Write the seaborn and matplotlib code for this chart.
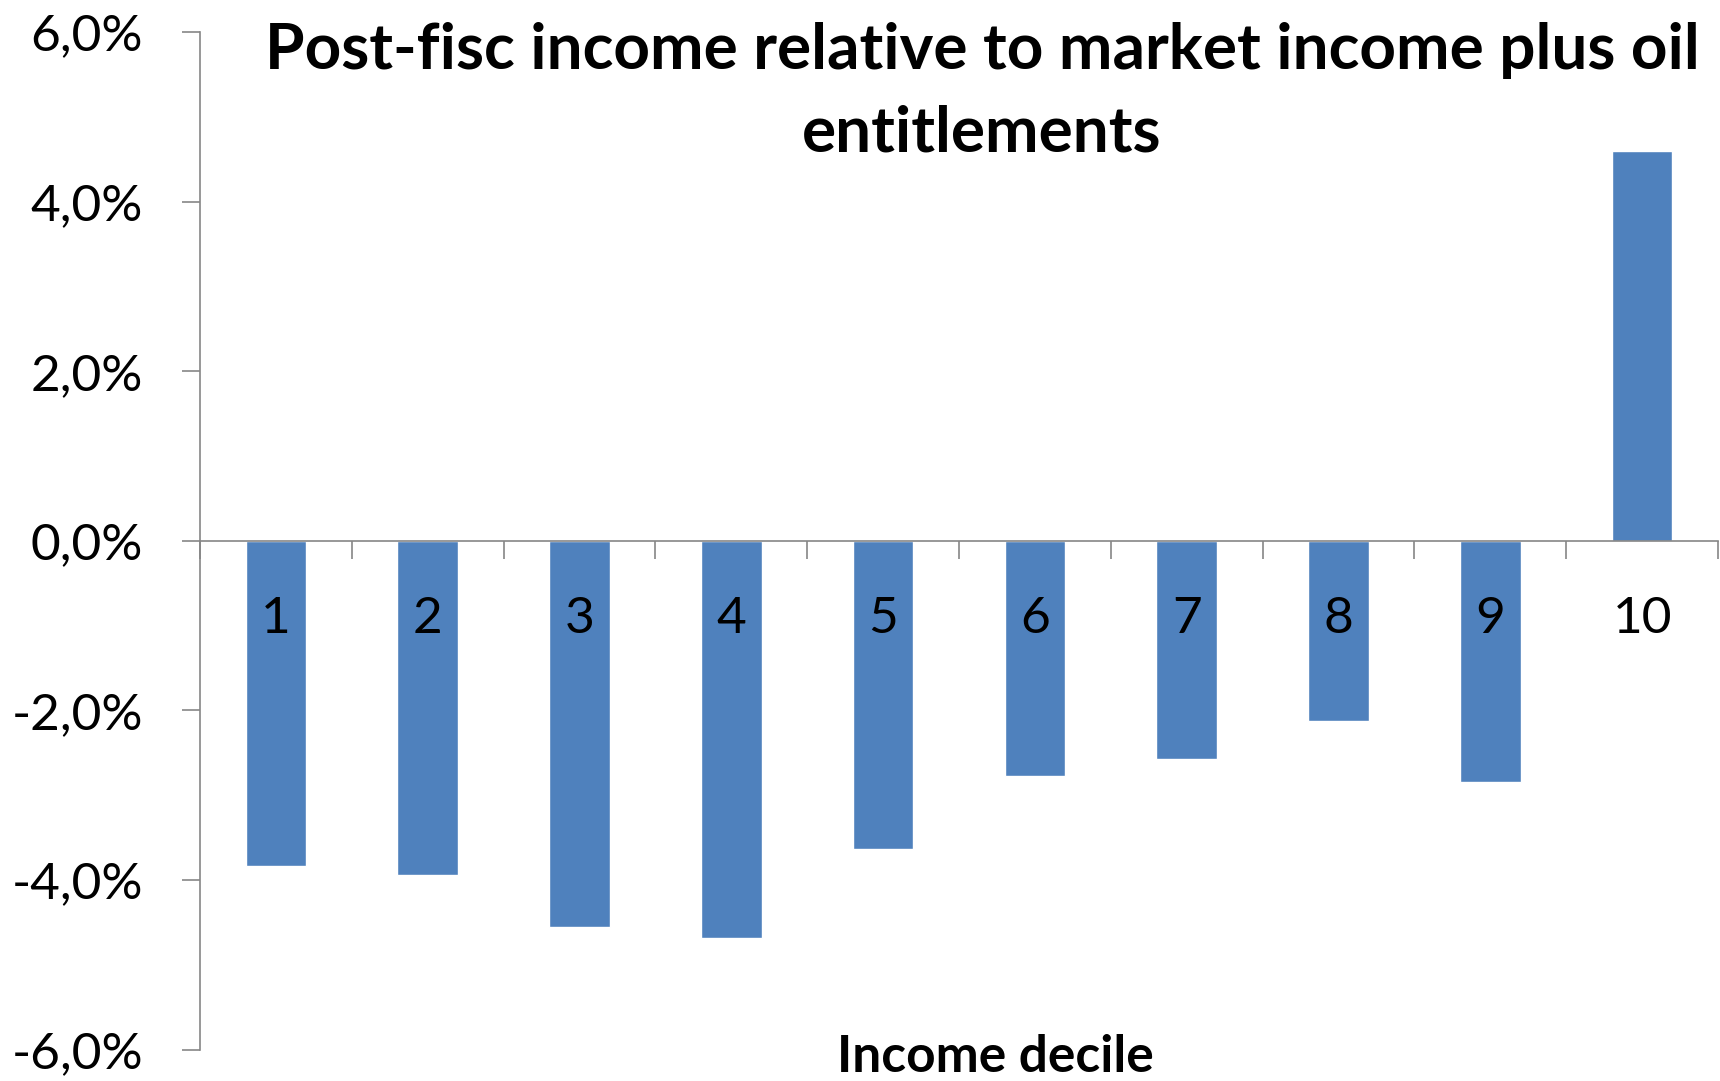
import matplotlib
matplotlib.use("Agg")
import matplotlib.pyplot as plt
from matplotlib.ticker import FixedLocator, FuncFormatter
import seaborn as sns
import pandas as pd

# Income deciles and change of post-fisc income (percent)
deciles = ["1", "2", "3", "4", "5", "6", "7", "8", "9", "10"]
change_pct = [-3.83, -3.94, -4.55, -4.68, -3.63, -2.77, -2.57, -2.12, -2.85, 4.60]
y_ticks = [-6, -4, -2, 0, 2, 4, 6]

title_text = "Post-fisc income relative to market income plus oil\nentitlements"
xlabel_text = "Income decile"

sns.set_theme(style="white")
plt.rcParams["font.family"] = ["Lato", "DejaVu Sans"]

BAR = "#4F81BD"
AXIS = "#868686"

fig = plt.figure(figsize=(17.2, 10.81), dpi=100)
ax = fig.add_axes([200 / 1720, 1 - 1049.5 / 1081, 1518 / 1720, (1049.5 - 32) / 1081])

df = pd.DataFrame({"decile": deciles, "change": change_pct})
sns.barplot(data=df, x="decile", y="change", color=BAR, saturation=1,
            width=0.4, ax=ax, errorbar=None)

ax.set_axisbelow(False)
ax.set_xlim(-0.5, len(deciles) - 0.5)
ax.set_ylim(min(y_ticks), max(y_ticks))

for s in ["top", "right"]:
    ax.spines[s].set_visible(False)
ax.spines["left"].set_color(AXIS)
ax.spines["left"].set_linewidth(1.2)
ax.spines["bottom"].set_color(AXIS)
ax.spines["bottom"].set_linewidth(1.2)
ax.spines["bottom"].set_position(("data", 0))

ax.yaxis.set_major_locator(FixedLocator(y_ticks))
ax.yaxis.set_major_formatter(FuncFormatter(lambda v, p: f"{v:.1f}%".replace(".", ",")))
ax.tick_params(axis="y", direction="out", length=13, width=1.2, color=AXIS,
               labelsize=37, pad=28, labelcolor="black", left=True)

ax.xaxis.set_minor_locator(FixedLocator([i - 0.5 for i in range(len(deciles) + 1)]))
ax.tick_params(axis="x", which="minor", direction="out", length=13, width=1.2,
               color=AXIS, bottom=True)
ax.tick_params(axis="x", which="major", length=0, labelsize=37, pad=40,
               labelcolor="black", bottom=True)

ax.set_xlabel("")
ax.set_ylabel("")

fig.text(982 / 1720, 1 - 22 / 1081, title_text, ha="center", va="top",
         fontsize=46, fontweight="bold", color="black", linespacing=1.55)
fig.text(995 / 1720, 1 - 1072 / 1081, xlabel_text, ha="center", va="baseline",
         fontsize=37, fontweight="bold", color="black")

fig.savefig("out.png", dpi=100, facecolor="white")
